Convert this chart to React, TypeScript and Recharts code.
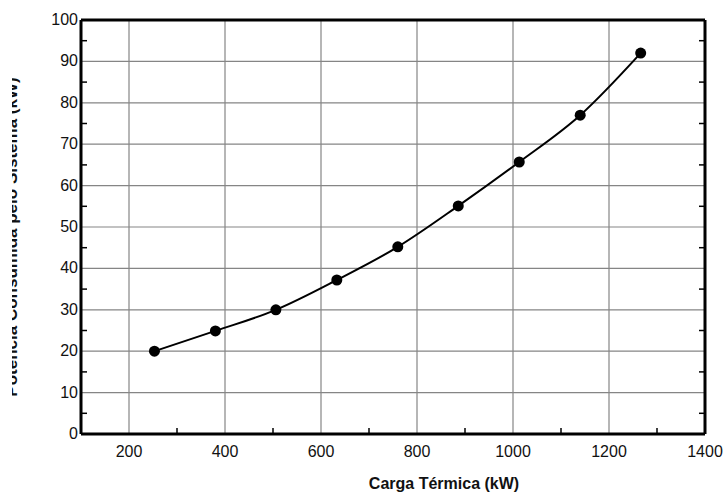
import React from 'react';
import { ComposedChart, Line, XAxis, YAxis, CartesianGrid } from 'recharts';

const cargaTermica = [253, 380, 506, 633, 760, 886, 1013, 1140, 1266];
const custoValores = [20.0, 24.9, 30.0, 37.2, 45.2, 55.1, 65.7, 77.0, 92.0];

const xMajorTicks = [200, 400, 600, 800, 1000, 1200, 1400];
const xMinorTicks = [300, 500, 700, 900, 1100, 1300];
const yMajorTicks = [0, 10, 20, 30, 40, 50, 60, 70, 80, 90, 100];
const yMinorTicks = [5, 15, 25, 35, 45, 55, 65, 75, 85, 95];
const xGridValues = [200, 400, 600, 800, 1000, 1200];
const yGridValues = [10, 20, 30, 40, 50, 60, 70, 80, 90];

const xTitle = 'Carga Térmica (kW)';
const yTitle = 'Potência Consumida pelo Sistema (kW)';

const data = cargaTermica.map((x, i) => ({ x, y: custoValores[i] }));

const FONT = 'Arial, "Liberation Sans", sans-serif';
const TXT = '#111';

const BottomTick = (props: any) => {
  const { x, y, payload } = props;
  const v = payload.value;
  if (xMinorTicks.includes(v)) {
    return <line x1={x} x2={x} y1={y} y2={y - 6} stroke="#000" strokeWidth={1.5} />;
  }
  return (
    <text x={x} y={y + 23} textAnchor="middle" fontSize={16} fill={TXT} fontFamily={FONT}>
      {v}
    </text>
  );
};

const LeftTick = (props: any) => {
  const { x, y, payload } = props;
  const v = payload.value;
  if (yMinorTicks.includes(v)) {
    return <line x1={x} x2={x + 6} y1={y} y2={y} stroke="#000" strokeWidth={1.5} />;
  }
  return (
    <text x={x - 3} y={y + 5} textAnchor="end" fontSize={16} fill={TXT} fontFamily={FONT}>
      {v}
    </text>
  );
};

const TopTick = (props: any) => {
  const { x, y } = props;
  return <line x1={x} x2={x} y1={y} y2={y + 6} stroke="#000" strokeWidth={1.5} />;
};

const RightTick = (props: any) => {
  const { x, y } = props;
  return <line x1={x} x2={x - 6} y1={y} y2={y} stroke="#000" strokeWidth={1.5} />;
};

const XTitle = (props: any) => {
  const vb = props.viewBox || { x: 81, y: 434, width: 624 };
  return (
    <text
      x={vb.x + vb.width / 2 + 51}
      y={vb.y + 55}
      textAnchor="middle"
      fontSize={16}
      fontWeight="bold"
      fill={TXT}
      fontFamily={FONT}
    >
      {xTitle}
    </text>
  );
};

const YTitle = () => {
  const cx = 17;
  const cy = 237;
  return (
    <g>
      <defs>
        <clipPath id="ytitle-clip">
          <rect x={12} y={0} width={30} height={495} />
        </clipPath>
      </defs>
      <g clipPath="url(#ytitle-clip)">
        <text
          x={cx}
          y={cy}
          transform={`rotate(-90, ${cx}, ${cy})`}
          textAnchor="middle"
          fontSize={17}
          fontWeight="bold"
          fill={TXT}
          fontFamily={FONT}
        >
          {yTitle}
        </text>
      </g>
    </g>
  );
};

export default function App() {
  return (
    <div style={{ position: 'absolute', left: 0, top: 0, background: '#fff' }}>
      <ComposedChart
        width={724}
        height={495}
        data={data}
        margin={{ top: 19, right: 18, bottom: 0, left: 0 }}
      >
        <CartesianGrid
          stroke="#858585"
          strokeWidth={1.2}
          horizontalValues={yGridValues}
          verticalValues={xGridValues}
        />
        <XAxis
          dataKey="x"
          type="number"
          domain={[100, 1400]}
          ticks={[...xMajorTicks, ...xMinorTicks].sort((a, b) => a - b)}
          interval={0}
          height={61}
          tickSize={0}
          tickMargin={0}
          tickLine={false}
          axisLine={{ stroke: '#000', strokeWidth: 3 }}
          tick={<BottomTick />}
          label={<XTitle />}
          allowDataOverflow
        />
        <XAxis
          xAxisId="top"
          orientation="top"
          type="number"
          domain={[100, 1400]}
          ticks={xMinorTicks}
          interval={0}
          height={1}
          tickSize={0}
          tickMargin={0}
          tickLine={false}
          axisLine={{ stroke: '#000', strokeWidth: 3 }}
          tick={<TopTick />}
          allowDataOverflow
        />
        <YAxis
          type="number"
          domain={[0, 100]}
          ticks={[...yMajorTicks, ...yMinorTicks].sort((a, b) => a - b)}
          interval={0}
          width={81}
          tickSize={0}
          tickMargin={0}
          tickLine={false}
          axisLine={{ stroke: '#000', strokeWidth: 3 }}
          tick={<LeftTick />}
          label={<YTitle />}
          allowDataOverflow
        />
        <YAxis
          yAxisId="right"
          orientation="right"
          type="number"
          domain={[0, 100]}
          ticks={yMinorTicks}
          interval={0}
          width={1}
          tickSize={0}
          tickMargin={0}
          tickLine={false}
          axisLine={{ stroke: '#000', strokeWidth: 3 }}
          tick={<RightTick />}
          allowDataOverflow
        />
        <Line
          type="monotone"
          dataKey="y"
          stroke="#000"
          strokeWidth={2}
          dot={{ r: 5.5, fill: '#000', stroke: '#000', strokeWidth: 0 }}
          activeDot={false}
          isAnimationActive={false}
        />
      </ComposedChart>
    </div>
  );
}
